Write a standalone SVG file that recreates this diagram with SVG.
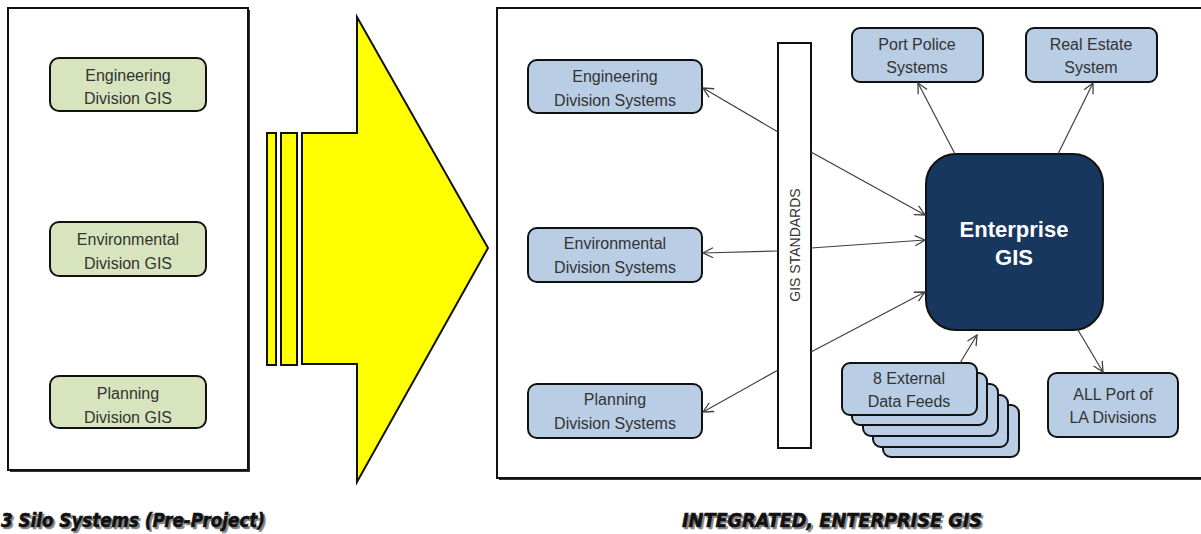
<svg xmlns="http://www.w3.org/2000/svg" width="1201" height="534" viewBox="0 0 1201 534">
<style>
.panel{fill:#fff;stroke:#111;stroke-width:2}
.g{fill:#D7E4BD;stroke:#111;stroke-width:2}
.b{fill:#B9CDE5;stroke:#111;stroke-width:2}
.t{font-family:"Liberation Sans",Arial,sans-serif;font-size:16px;fill:#333;text-anchor:middle}
.y{fill:#FFFF00;stroke:#111;stroke-width:2}
.cap{font-family:"DejaVu Sans",Verdana,sans-serif;font-weight:bold;font-style:italic;font-size:19px;stroke-width:0.6}
.c{stroke:#404040;stroke-width:1.2;fill:none;marker-end:url(#ah)}
</style>
<defs>
<marker id="ah" viewBox="0 0 12 12" refX="11" refY="6" markerWidth="12" markerHeight="12" markerUnits="userSpaceOnUse" orient="auto">
<path d="M1,1 L11,6 L1,11" fill="none" stroke="#404040" stroke-width="1.3"/>
</marker>
</defs>
<rect width="1201" height="534" fill="#fff"/>

<g id="left-panel">
<rect x="10" y="10" width="240" height="462" fill="#333"/>
<rect class="panel" x="8" y="8" width="240" height="462"/>
</g>
<g id="left-engineering">
<rect class="g" x="50" y="58" width="156" height="53" rx="9"/>
<text class="t" x="128" y="81">Engineering</text>
<text class="t" x="128" y="104">Division GIS</text>
</g>
<g id="left-environmental">
<rect class="g" x="50" y="222" width="156" height="54" rx="9"/>
<text class="t" x="128" y="245">Environmental</text>
<text class="t" x="128" y="269">Division GIS</text>
</g>
<g id="left-planning">
<rect class="g" x="50" y="376" width="156" height="52" rx="9"/>
<text class="t" x="128" y="399">Planning</text>
<text class="t" x="128" y="423">Division GIS</text>
</g>

<g id="transition-arrow">
<rect class="y" x="267" y="133" width="9" height="232"/>
<rect class="y" x="281" y="133" width="16" height="232"/>
<polygon class="y" points="302,133 357,133 357,17 488,248 357,482 357,364 302,364"/>
</g>

<g id="right-panel">
<rect x="499" y="10" width="720" height="470" fill="#333"/>
<rect class="panel" x="497" y="8" width="720" height="470"/>
</g>

<g id="gis-standards">
<rect x="778" y="43" width="33" height="405" fill="#fff" stroke="#111" stroke-width="2"/>
<text class="t" transform="translate(800,245) rotate(-90)" style="font-size:14px">GIS STANDARDS</text>
</g>

<g id="right-engineering">
<rect class="b" x="528" y="60" width="174" height="53" rx="9"/>
<text class="t" x="615" y="82">Engineering</text>
<text class="t" x="615" y="106">Division Systems</text>
</g>
<g id="right-environmental">
<rect class="b" x="528" y="228" width="174" height="54" rx="9"/>
<text class="t" x="615" y="249">Environmental</text>
<text class="t" x="615" y="273">Division Systems</text>
</g>
<g id="right-planning">
<rect class="b" x="528" y="384" width="174" height="54" rx="9"/>
<text class="t" x="615" y="405">Planning</text>
<text class="t" x="615" y="429">Division Systems</text>
</g>

<g id="port-police">
<rect class="b" x="852" y="28" width="131" height="54" rx="8"/>
<text class="t" x="917" y="50">Port Police</text>
<text class="t" x="917" y="73">Systems</text>
</g>
<g id="real-estate">
<rect class="b" x="1026" y="28" width="131" height="54" rx="8"/>
<text class="t" x="1091" y="50">Real Estate</text>
<text class="t" x="1091" y="73">System</text>
</g>

<g id="enterprise-gis">
<rect x="926" y="154" width="177" height="176" rx="30" fill="#17375E" stroke="#111" stroke-width="2"/>
<text x="1014" y="237" style="font-family:'Liberation Sans',Arial,sans-serif;font-weight:bold;font-size:22px;fill:#fff;text-anchor:middle">Enterprise</text>
<text x="1014" y="265" style="font-family:'Liberation Sans',Arial,sans-serif;font-weight:bold;font-size:22px;fill:#fff;text-anchor:middle">GIS</text>
</g>

<g id="external-feeds">
<rect class="b" x="883" y="405" width="136" height="52" rx="8"/>
<rect class="b" x="873" y="395" width="135" height="52" rx="8"/>
<rect class="b" x="863" y="384" width="135" height="52" rx="8"/>
<rect class="b" x="852" y="373" width="135" height="52" rx="8"/>
<rect class="b" x="842" y="363" width="135" height="52" rx="8"/>
<text class="t" x="909" y="384">8 External</text>
<text class="t" x="909" y="407">Data Feeds</text>
</g>

<g id="all-divisions">
<rect class="b" x="1048" y="373" width="130" height="64" rx="9"/>
<text class="t" x="1113" y="400">ALL Port of</text>
<text class="t" x="1113" y="423">LA Divisions</text>
</g>

<g id="connectors">
<line class="c" x1="778" y1="132" x2="703" y2="88"/>
<line class="c" x1="811" y1="152" x2="925" y2="215"/>
<line class="c" x1="778" y1="251" x2="703" y2="253"/>
<line class="c" x1="811" y1="248" x2="925" y2="240"/>
<line class="c" x1="778" y1="370" x2="703" y2="412"/>
<line class="c" x1="811" y1="352" x2="925" y2="292"/>
<line class="c" x1="955" y1="154" x2="918" y2="83"/>
<line class="c" x1="1058" y1="154" x2="1093" y2="83"/>
<line class="c" x1="960" y1="363" x2="977" y2="335"/>
<line class="c" x1="1078" y1="330" x2="1103" y2="372"/>
</g>

<g id="captions">
<text class="cap" x="3" y="529" fill="#888" stroke="#888" textLength="264" lengthAdjust="spacingAndGlyphs">3 Silo Systems (Pre-Project)</text>
<text class="cap" x="1" y="527" fill="#111" stroke="#111" textLength="264" lengthAdjust="spacingAndGlyphs">3 Silo Systems (Pre-Project)</text>
<text class="cap" x="684" y="529" fill="#888" stroke="#888" textLength="300" lengthAdjust="spacingAndGlyphs">INTEGRATED, ENTERPRISE GIS</text>
<text class="cap" x="682" y="527" fill="#111" stroke="#111" textLength="300" lengthAdjust="spacingAndGlyphs">INTEGRATED, ENTERPRISE GIS</text>
</g>
</svg>
